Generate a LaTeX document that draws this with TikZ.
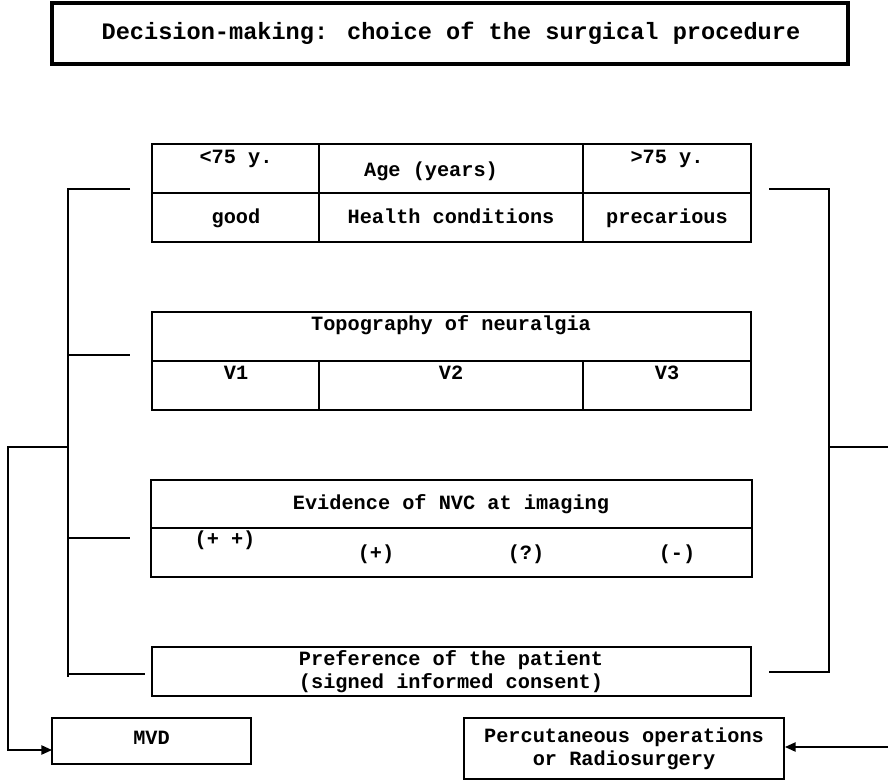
\documentclass[tikz,border=0pt]{standalone}
\usepackage{fontspec}
\setmainfont{Liberation Mono}
\usetikzlibrary{arrows.meta}
\begin{document}
\begin{tikzpicture}[x=0.75pt,y=-0.75pt,
  txt/.style={font=\fontsize{15.2}{17}\selectfont\bfseries, inner sep=0pt, align=center, text height=1.6ex, text depth=0.4ex, yshift=-1.2pt},
  txtm/.style={font=\fontsize{15.2}{17}\selectfont\bfseries, inner sep=0pt, align=center},
  ttl/.style={font=\fontsize{17.7}{20}\selectfont\bfseries, inner sep=0pt},
  thin/.style={line width=0.9pt},
  thick/.style={line width=1.7pt},
  arr/.style={line width=1.1pt, -{Triangle[length=8pt,width=7pt]}}]
\useasboundingbox (0,0) rectangle (888,780);
% title
\draw[line width=2.3pt] (52,3) rectangle (848,64);
\node[ttl] (title) at (451,33) {Decision-making: choice of the surgical procedure};
% table 1
\draw[thin] (152,144) rectangle (751,242);
\draw[thin] (152,193) -- (751,193);
\draw[thin] (319,144) -- (319,242);
\draw[thin] (583,144) -- (583,242);
\node[txt] (lt75) at (236,158) {<75 y.};
\node[txt] (age) at (431,171) {Age (years)};
\node[txt] (gt75) at (667,158) {>75 y.};
\node[txt] (good) at (236,218) {good};
\node[txt] (health) at (451,218) {Health conditions};
\node[txt] (prec) at (667,218) {precarious};
% table 2
\draw[thin] (152,312) rectangle (751,410);
\draw[thin] (152,361) -- (751,361);
\draw[thin] (319,361) -- (319,410);
\draw[thin] (583,361) -- (583,410);
\node[txt] (topo) at (451,325) {Topography of neuralgia};
\node[txt] (v1) at (236,374) {V1};
\node[txt] (v2) at (451,374) {V2};
\node[txt] (v3) at (667,374) {V3};
% table 3
\draw[thin] (151,480) rectangle (752,577);
\draw[thin] (151,528) -- (752,528);
\node[txt] (nvc) at (451,504) {Evidence of NVC at imaging};
\node[txt] (pp) at (225,540) {(+ +)};
\node[txt] (p) at (376,554) {(+)};
\node[txt] (q) at (526,554) {(?)};
\node[txt] (m) at (677,554) {(-)};
% box 4
\draw[thin] (152,647) rectangle (751,696);
\node[txtm] (pref) at (451,671.5) {Preference of the patient\\(signed informed consent)};
% outcome boxes
\draw[line width=2pt] (52,718) rectangle (251,764);
\node[txt] (mvd) at (151.5,739) {MVD};
\coordinate (mvdL) at (52,750);
\draw[line width=2pt] (464,718) rectangle (784,779);
\node[txtm] (perc) at (624,748.5) {Percutaneous operations\\or Radiosurgery};
\coordinate (percR) at (785,747);
% left bracket
\draw[thick] (130,189) -- (68,189) -- (68,677);
\draw[thick] (68,355) -- (130,355);
\draw[thick] (68,538) -- (130,538);
\draw[thick] (68,674) -- (145,674);
\coordinate (lsplit) at (68,447);
\draw[arr] (lsplit) -- (8,447) -- (8,750) -- (mvdL);
% right bracket
\draw[thick] (769,189) -- (829,189) -- (829,672) -- (769,672);
\draw[thick] (829,447) -- (888,447);
\coordinate (redge) at (888,747);
\draw[arr] (redge) -- (percR);
\end{tikzpicture}
\end{document}
